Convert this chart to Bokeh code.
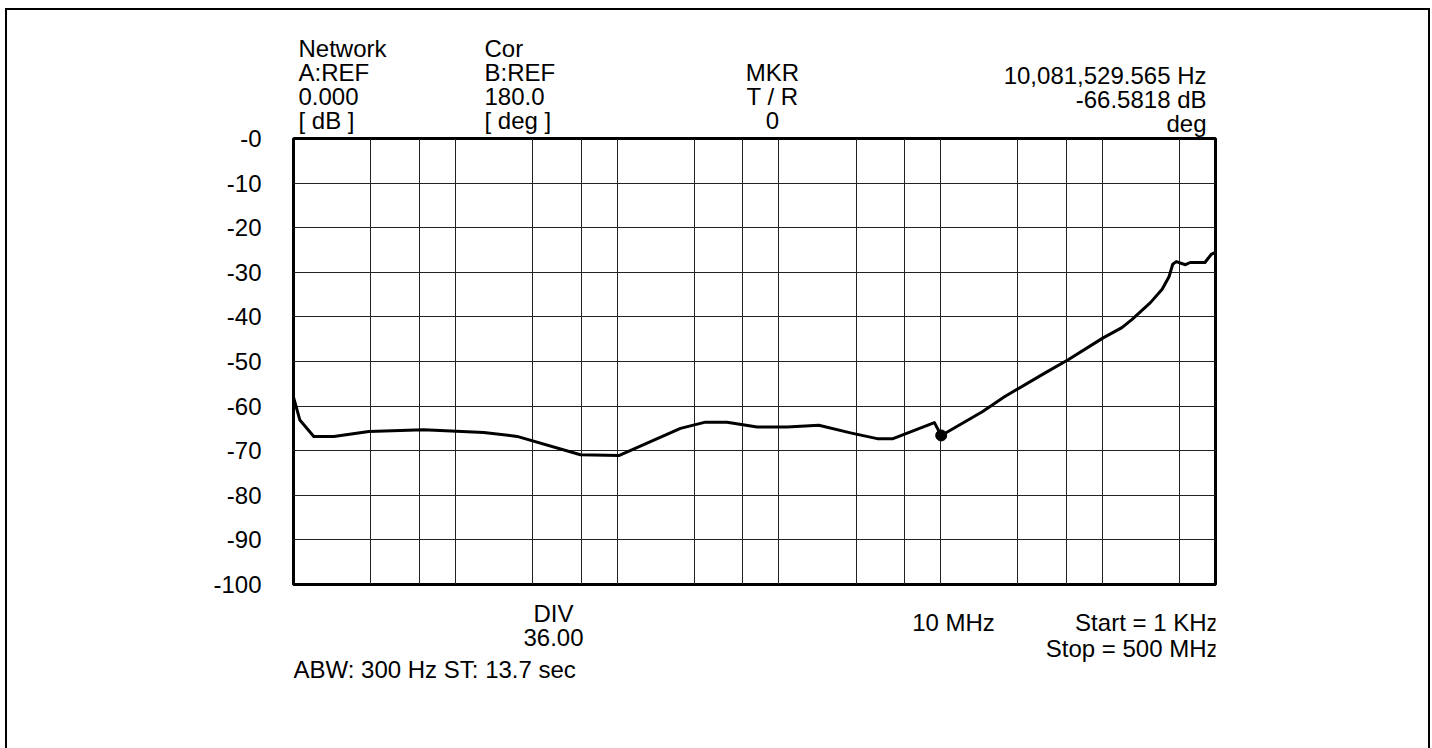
from bokeh.plotting import figure
from bokeh.layouts import column
from bokeh.models import FixedTicker, Label
from bokeh.embed import file_html
from bokeh.resources import INLINE

# ---- data ----
freq_hz = [1.0e3, 1.094e3, 1.335e3, 1.776e3, 2.92e3, 6.38e3, 1.5e4, 2.41e4,
           5.94e4, 1.025e5, 2.466e5, 3.516e5, 4.786e5, 7.34e5, 1.125e6,
           1.766e6, 2.77e6, 4.05e6, 5.08e6, 9.15e6, 1.00815e7, 1.10e7,
           1.82e7, 2.48e7, 4.40e7, 6.14e7, 1.01e8, 1.32e8, 1.52e8, 1.98e8,
           2.34e8, 2.58e8, 2.72e8, 2.86e8, 3.26e8, 3.49e8, 4.30e8, 4.70e8,
           4.95e8]
level_db = [-58.0, -63.1, -66.8, -66.8, -65.7, -65.3, -65.9, -66.8,
            -70.9, -71.1, -65.0, -63.6, -63.6, -64.7, -64.7,
            -64.3, -66.0, -67.3, -67.3, -63.7, -66.58, -65.8,
            -61.2, -57.9, -52.6, -49.6, -44.7, -42.4, -40.6, -36.8,
            -33.8, -31.0, -28.2, -27.6, -28.3, -27.8, -27.8, -26.0,
            -25.6]
marker_f = [10081529.565]
marker_db = [-66.5818]

x_grid_ticks = [1e3, 3e3, 6e3, 1e4, 3e4, 6e4, 1e5, 3e5, 6e5, 1e6, 3e6, 6e6,
                1e7, 3e7, 6e7, 1e8, 3e8]
y_ticks = [0, -10, -20, -30, -40, -50, -60, -70, -80, -90, -100]
y_tick_labels = ["-0", "-10", "-20", "-30", "-40", "-50", "-60", "-70",
                 "-80", "-90", "-100"]

header_network = ["Network", "A:REF", "0.000", "[ dB ]"]
header_cor = ["Cor", "B:REF", "180.0", "[ deg ]"]
header_mkr = ["MKR", "T / R", "0"]
header_marker = ["10,081,529.565 Hz", "-66.5818 dB", "deg"]
div_lines = ["DIV", "36.00"]
center_label = "10 MHz"
span_lines = ["Start = 1 KHz", "Stop = 500 MHz"]
footer = "ABW: 300 Hz ST: 13.7 sec"

X0, X1 = 1e3, 5e8
Y0, Y1 = -100, 0

# ---- layout (page pixels) ----
FRAME_L, FRAME_R, FRAME_T, FRAME_B = 293, 1215, 138, 584
BOX_L, BOX_T, BORDER = 5, 8, 2
CX = BOX_L + BORDER            # canvas x origin on the page
W = 1425
HEAD_BOTTOM = 140              # header strip ends here ...
OVERLAP = 26                   # ... and the (transparent) top of the plot overlaps it
MAIN_TOP = HEAD_BOTTOM - OVERLAP
FOOT_TOP, PAGE_B = 600, 748

FONT = "Liberation Sans"
FS = "24px"
BASE_FIX = 10                  # Label alphabetic anchor correction (px)
SIDE = "2px solid black"

def text_panel(height, top_border):
    f = figure(width=W, height=height, x_axis_location=None,
               y_axis_location=None, min_border=0, toolbar_location=None,
               output_backend="svg")
    f.outline_line_color = None
    f.xgrid.visible = False
    f.ygrid.visible = False
    st = {"border-left": SIDE, "border-right": SIDE}
    if top_border:
        st["border-top"] = SIDE
    f.styles = st
    return f

head = text_panel(HEAD_BOTTOM - BOX_T, True)
foot = text_panel(PAGE_B - FOOT_TOP, False)

p = figure(width=W, height=FOOT_TOP - MAIN_TOP, x_axis_type="log",
           x_range=(X0, X1), y_range=(Y0, Y1),
           output_backend="svg", toolbar_location=None,
           min_border_left=FRAME_L - CX,
           min_border_right=(CX + W) - FRAME_R,
           min_border_top=FRAME_T - MAIN_TOP,
           min_border_bottom=FOOT_TOP - FRAME_B)
p.styles = {"border-left": SIDE, "border-right": SIDE,
            "margin-top": f"-{OVERLAP}px"}
p.background_fill_color = "white"
p.border_fill_color = None
p.outline_line_color = "black"
p.outline_line_width = 3

p.xaxis.visible = False
p.xaxis.ticker = FixedTicker(ticks=x_grid_ticks)
p.xgrid.ticker = FixedTicker(ticks=x_grid_ticks)
p.xgrid.grid_line_color = "#222222"
p.xgrid.grid_line_width = 1
p.ygrid.grid_line_color = "#222222"
p.ygrid.grid_line_width = 1

p.yaxis.ticker = FixedTicker(ticks=y_ticks)
p.yaxis.major_label_overrides = {t: s for t, s in zip(y_ticks, y_tick_labels)}
p.yaxis.axis_line_color = None
p.yaxis.major_tick_line_color = None
p.yaxis.minor_tick_line_color = None
p.yaxis.major_tick_out = 0
p.yaxis.major_label_standoff = 32
p.yaxis.major_label_text_font = FONT
p.yaxis.major_label_text_font_size = FS
p.yaxis.major_label_text_color = "black"

p.line(freq_hz, level_db, line_width=3, line_color="black", line_join="round")
p.scatter(marker_f, marker_db, size=11, color="black")

def add_text(fig, canvas_top, txt, px, py, align="left"):
    fig.add_layout(Label(x=px - CX, y=py - BASE_FIX - canvas_top,
                         x_units="canvas", y_units="canvas", text=txt,
                         text_font=FONT, text_font_size=FS,
                         text_color="black", text_align=align,
                         text_baseline="alphabetic"))

HC = BOX_T + BORDER   # header canvas top on the page
for i, t in enumerate(header_network):
    add_text(head, HC, t, 296, 56 + 24 * i)
for i, t in enumerate(header_cor):
    add_text(head, HC, t, 482, 56 + 24 * i)
for i, t in enumerate(header_mkr):
    add_text(head, HC, t, 770, 80 + 24 * i, "center")
for i, t in enumerate(header_marker):
    add_text(head, HC, t, 1204, 83 + 24 * i, "right")

for i, t in enumerate(div_lines):
    add_text(foot, FOOT_TOP, t, 551, 623 + 24 * i, "center")
add_text(foot, FOOT_TOP, center_label, 951, 632, "center")
for i, t in enumerate(span_lines):
    add_text(foot, FOOT_TOP, t, 1216, 632 + 26 * i, "right")
add_text(foot, FOOT_TOP, footer, 291, 679)

layout = column(head, p, foot, spacing=0,
                styles={"margin-left": f"{BOX_L}px", "margin-top": f"{BOX_T}px"})

open("out.html", "w").write(file_html(layout, INLINE))
